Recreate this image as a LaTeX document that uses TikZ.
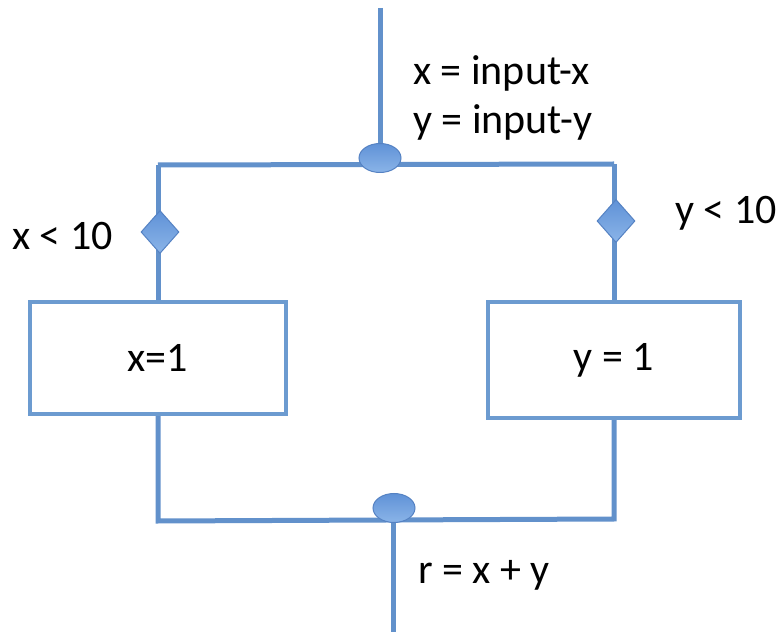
\documentclass[tikz,border=0pt]{standalone}
\usepackage{fontspec}
\setmainfont{Carlito}
\usetikzlibrary{shapes.geometric,backgrounds}
\definecolor{wire}{RGB}{98,145,203}
\definecolor{jtop}{RGB}{96,146,215}
\definecolor{jbot}{RGB}{138,180,232}
\definecolor{jdraw}{RGB}{85,130,195}
\definecolor{boxline}{RGB}{108,155,208}
\tikzset{
  wireline/.style={draw=wire, line width=5pt},
  junction/.style={ellipse, top color=jtop, bottom color=jbot, draw=jdraw, line width=1pt, minimum width=42pt, minimum height=29pt, inner sep=0pt},
  guard/.style={diamond, top color=jtop, bottom color=jbot, draw=jdraw, line width=1pt, minimum width=38pt, minimum height=43pt, inner sep=0pt},
  stmt/.style={rectangle, draw=boxline, line width=4pt, fill=white, font=\fontsize{42}{46}\selectfont},
  lbl/.style={font=\fontsize{42}{46}\selectfont, inner sep=0pt}
}
\begin{document}
\begin{tikzpicture}[x=1pt, y=-1pt]
\useasboundingbox (0,0) rectangle (777,636);
% nodes
\node[junction] (top) at (380,158) {};
\node[junction] (bot) at (394,508) {};
\node[guard] (dl) at (160,232) {};
\node[guard] (dr) at (616,221) {};
\node[stmt, minimum width=256pt, minimum height=112pt] (bx) at (158,358) {x=1};
\node[stmt, minimum width=252pt, minimum height=116pt] (by) at (614,360) {y = 1};
\coordinate (in) at (380,8);
\coordinate (out) at (393,632);
\coordinate (tl) at (158,165);
\coordinate (tr) at (614,164);
\coordinate (bl) at (158,521);
\coordinate (br) at (614,519);
\coordinate (bj) at (393,520);
% labels
\node[lbl, anchor=west] (l1) at (413,73) {x = input-x};
\node[lbl, anchor=west] (l2) at (413,122) {y = input-y};
\node[lbl, anchor=west] (l3) at (12,236) {x < 10};
\node[lbl, anchor=west] (l4) at (675,213) {y < 10};
\node[lbl, anchor=west] (l5) at (418,575) {r = x + y};
\begin{pgfonlayer}{background}
\draw[wireline] (in) -- (top.center);
\draw[wireline] (tl) -- (tr);
\draw[wireline] (tl) -- (bx.north -| tl);
\draw[wireline] (tr) -- (by.north -| tr);
\draw[wireline] (bx.south -| bl) -- (bl) -- (br) -- (by.south -| br);
\draw[wireline] (bj) -- (out);
\end{pgfonlayer}
\end{tikzpicture}
\end{document}
